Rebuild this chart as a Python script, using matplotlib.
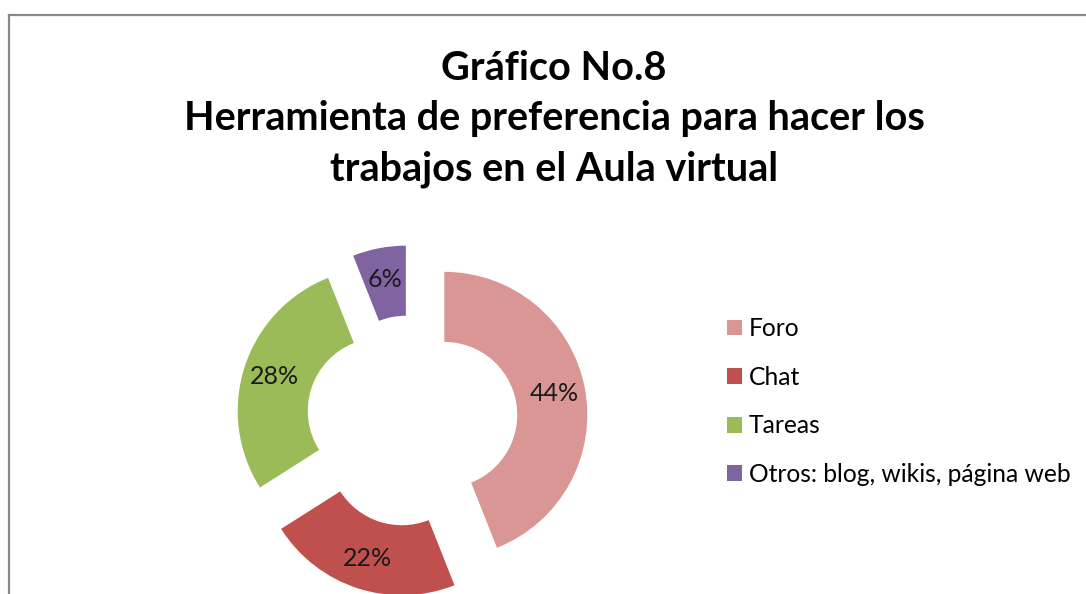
import matplotlib.pyplot as plt
from matplotlib.lines import Line2D

categories = ['Foro', 'Chat', 'Tareas', 'Otros: blog, wikis, página web']
values = [44, 22, 28, 6]
colors = ['#D99694', '#C0504D', '#9BBB59', '#8064A2']
title = 'Gráfico No.8\nHerramienta de preferencia para hacer los\ntrabajos en el Aula virtual'

plt.rcParams['font.family'] = ['Lato', 'DejaVu Sans']

W, H = 1086, 594
fig = plt.figure(figsize=(W / 100, H / 100), dpi=100)

# axes placed so that donut centre sits at (412, 421) px, radius 143 px
cx, cy, R = 412, 421, 143
k = 1.6
half = R * k
ax = fig.add_axes([(cx - half) / W, (H - cy - half) / H, 2 * half / W, 2 * half / H])

wedges, texts, autotexts = ax.pie(
    values, colors=colors, startangle=90, counterclock=False,
    explode=[0.23] * 4, autopct='%1.0f%%', pctdistance=0.78,
    wedgeprops=dict(width=0.49, linewidth=0),
    textprops=dict(fontsize=18, color='#1a1a1a'))
ax.set_xlim(-k, k)
ax.set_ylim(-k, k)
ax.set_aspect('equal')
ax.axis('off')

fig.text(554 / W, 1 - 119 / H, title, ha='center', va='center',
         fontsize=28.5, fontweight='bold', linespacing=1.45, color='black')

leg = fig.legend(wedges, categories, loc='upper left',
                 bbox_to_anchor=(705 / W, 1 - 295 / H), frameon=False,
                 fontsize=17.7, labelspacing=1.04, handlelength=0.62,
                 handleheight=0.62, handletextpad=0.25)

# chart frame (left and top edges visible)
fig.add_artist(Line2D([9 / W, 9 / W], [0, 1 - 15 / H], color='#888888', lw=1.6))
fig.add_artist(Line2D([9 / W, 1], [1 - 15 / H, 1 - 15 / H], color='#888888', lw=1.6))

fig.savefig('out.png', dpi=100)
